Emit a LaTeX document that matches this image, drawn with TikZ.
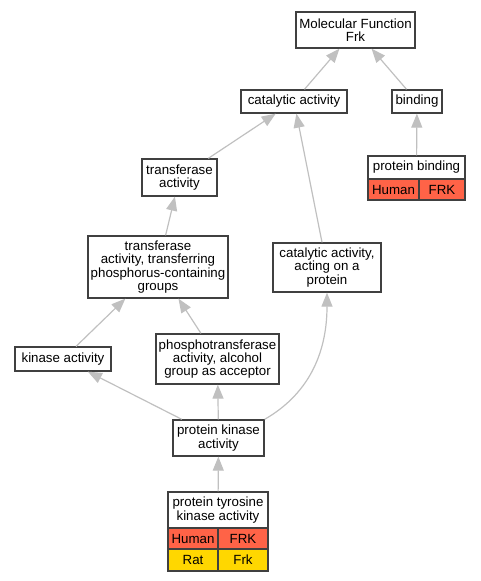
\documentclass[tikz,border=0pt]{standalone}
\usepackage{fontspec}
\setmainfont{Liberation Sans}
\usetikzlibrary{arrows.meta}
\definecolor{human}{HTML}{FF6347}
\definecolor{rat}{HTML}{FFD700}
\definecolor{edgegray}{HTML}{C0C0C0}
\definecolor{boxline}{HTML}{404040}
\begin{document}
\begin{tikzpicture}[x=1pt,y=-1pt,
    term/.style={shape=rectangle,draw=boxline,fill=white,line width=1.3pt,inner sep=0pt,
      align=center,font=\fontsize{13.3}{13.3}\selectfont},
    isa/.style={draw=edgegray,line width=1.2pt,-{Triangle[length=14pt,width=11pt,fill=edgegray]}}]
            \useasboundingbox (0,0) rectangle (480,581);

            \node[term,minimum width=119pt,minimum height=36pt] (MF) at (355.5,30) {Molecular Function\\Frk};
            \node[term,minimum width=106pt,minimum height=23pt] (CA) at (294,101.5) {catalytic activity};
            \node[term,minimum width=50pt,minimum height=23pt] (BI) at (417,101.5) {binding};
            \node[term,minimum width=97pt,minimum height=23pt] (PB) at (416.5,167.5) {protein binding};
            \node[term,fill=human,minimum width=51pt,minimum height=21pt] (PBh) at (393.5,189.5) {Human};
            \node[term,fill=human,minimum width=46pt,minimum height=21pt] (PBg) at (442,189.5) {FRK};
            \node[term,minimum width=75pt,minimum height=37pt] (TA) at (179.5,177.5) {transferase\\activity};
            \node[term,minimum width=140pt,minimum height=62pt] (TP) at (158,267) {transferase\\activity, transferring\\phosphorus-containing\\groups};
            \node[term,minimum width=108pt,minimum height=49pt] (CP) at (327,267.5) {catalytic activity,\\acting on a\\protein};
            \node[term,minimum width=96pt,minimum height=24pt] (KA) at (63,359) {kinase activity};
            \node[term,minimum width=123pt,minimum height=50pt] (PA) at (217.5,359) {phosphotransferase\\activity, alcohol\\group as acceptor};
            \node[term,minimum width=91pt,minimum height=36pt] (PK) at (218.5,438) {protein kinase\\activity};
            \node[term,minimum width=100pt,minimum height=36pt] (PT) at (218,510) {protein tyrosine\\kinase activity};
            \node[term,fill=human,minimum width=50pt,minimum height=21pt] (PTh) at (193,538.5) {Human};
            \node[term,fill=human,minimum width=50pt,minimum height=21pt] (PTg) at (243,538.5) {FRK};
            \node[term,fill=rat,minimum width=50pt,minimum height=22pt] (PTr) at (193,560) {Rat};
            \node[term,fill=rat,minimum width=50pt,minimum height=22pt] (PTf) at (243,560) {Frk};

            \draw[isa] (CA) -- (MF);
            \draw[isa] (BI) -- (MF);
            \draw[isa] (PB) -- (BI);
            \draw[isa] (TA) -- (CA);
            \draw[isa] (CP) -- (CA);
            \draw[isa] (TP) -- (TA);
            \draw[isa] (KA) -- (TP);
            \draw[isa] (PA) -- (TP);
            \draw[isa] (PK) -- (KA);
            \draw[isa] (PK) -- (PA);
            \draw[isa] (PK.north east) to[out=30,in=-90] (CP.south);
            \draw[isa] (PT) -- (PK);
        \end{tikzpicture}
\end{document}
